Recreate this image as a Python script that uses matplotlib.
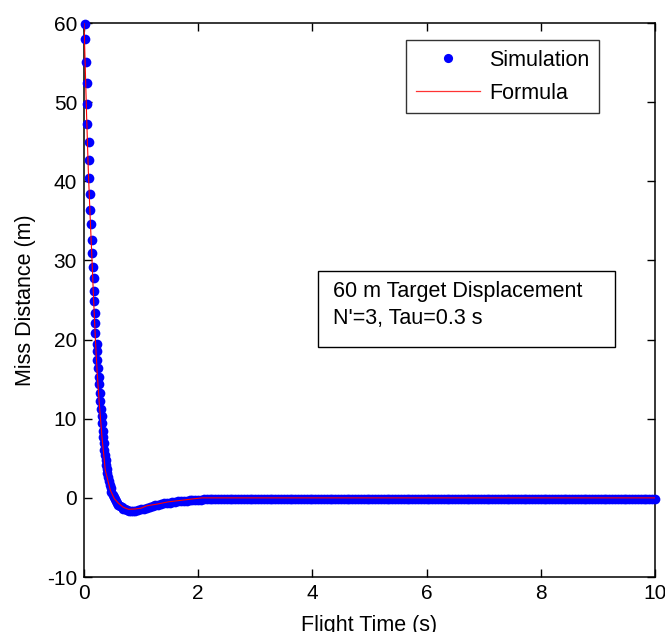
import matplotlib
matplotlib.use("Agg")
import matplotlib.pyplot as plt
from matplotlib.lines import Line2D
from matplotlib.patches import Rectangle

plt.rcParams['font.family'] = ['Liberation Sans', 'DejaVu Sans']
plt.rcParams['axes.unicode_minus'] = False

# simulation points (flight time s, miss distance m)
sim_t = [0.023, 0.025, 0.028, 0.058, 0.058, 0.061, 0.088, 0.09, 0.095, 0.11,
         0.113, 0.117, 0.14, 0.14, 0.158, 0.17, 0.17, 0.175, 0.198, 0.198,
         0.2, 0.228, 0.228, 0.23, 0.245, 0.257, 0.268,
         0.278, 0.288, 0.298, 0.308, 0.318, 0.328, 0.338, 0.348, 0.358, 0.368,
         0.378, 0.39, 0.40, 0.41, 0.42, 0.435, 0.45, 0.465, 0.48, 0.50,
         0.52, 0.54, 0.56, 0.58, 0.60, 0.63, 0.66, 0.69, 0.72, 0.75,
         0.78, 0.82, 0.86, 0.90, 0.95, 1.00, 1.05, 1.10, 1.15, 1.20,
         1.25, 1.30, 1.35, 1.40, 1.45, 1.50, 1.55, 1.60, 1.65, 1.70,
         1.75, 1.80, 1.85, 1.90, 1.95, 2.00, 2.05,
         2.10, 2.15, 2.20, 2.25, 2.30, 2.35, 2.40, 2.45, 2.50, 2.55,
         2.60, 2.65, 2.70, 2.75, 2.80, 2.85, 2.90, 2.95, 3.00, 3.05,
         3.10, 3.15, 3.20, 3.25, 3.30, 3.35, 3.40, 3.45, 3.50, 3.55,
         3.60, 3.65, 3.70, 3.75, 3.80, 3.85, 3.90, 3.95, 4.00, 4.05,
         4.10, 4.15, 4.20, 4.25, 4.30, 4.35, 4.40, 4.45, 4.50, 4.55,
         4.60, 4.65, 4.70, 4.75, 4.80, 4.85, 4.90, 4.95, 5.00, 5.05,
         5.10, 5.15, 5.20, 5.25, 5.30, 5.35, 5.40, 5.45, 5.50, 5.55,
         5.60, 5.65, 5.70, 5.75, 5.80, 5.85, 5.90, 5.95, 6.00, 6.05,
         6.10, 6.15, 6.20, 6.25, 6.30, 6.35, 6.40, 6.45, 6.50, 6.55,
         6.60, 6.65, 6.70, 6.75, 6.80, 6.85, 6.90, 6.95, 7.00, 7.05,
         7.10, 7.15, 7.20, 7.25, 7.30, 7.35, 7.40, 7.45, 7.50, 7.55,
         7.60, 7.65, 7.70, 7.75, 7.80, 7.85, 7.90, 7.95, 8.00, 8.05,
         8.10, 8.15, 8.20, 8.25, 8.30, 8.35, 8.40, 8.45, 8.50, 8.55,
         8.60, 8.65, 8.70, 8.75, 8.80, 8.85, 8.90, 8.95, 9.00, 9.05,
         9.10, 9.15, 9.20, 9.25, 9.30, 9.35, 9.40, 9.45, 9.50, 9.55,
         9.60, 9.65, 9.70, 9.75, 9.80, 9.85, 9.90, 9.95, 10.00]
sim_miss = [59.9, 58.0, 55.1, 52.4, 49.8, 47.3, 45.0, 42.7, 40.4, 38.4,
            36.4, 34.6, 32.6, 30.9, 29.2, 27.8, 26.1, 24.9, 23.4, 22.1,
            20.8, 19.5, 18.5, 17.4, 16.4, 15.3, 14.4,
            13.2, 12.2, 11.2, 10.3, 9.4, 8.5, 7.7, 6.9, 6.1, 5.4,
            4.8, 4.2, 3.6, 3.1, 2.6, 2.1, 1.6, 1.2, 0.8, 0.4,
            0.1, -0.2, -0.45, -0.65, -0.85, -1.05, -1.2, -1.35, -1.45, -1.55,
            -1.6, -1.65, -1.65, -1.6, -1.55, -1.45, -1.35, -1.25, -1.15, -1.05,
            -0.95, -0.85, -0.8, -0.7, -0.65, -0.6, -0.55, -0.5, -0.45, -0.4,
            -0.38, -0.35, -0.32, -0.3, -0.28, -0.25, -0.22,
            -0.2, -0.2, -0.2, -0.2, -0.2, -0.2, -0.2, -0.2, -0.2, -0.2,
            -0.2, -0.2, -0.2, -0.2, -0.2, -0.2, -0.2, -0.2, -0.2, -0.2,
            -0.2, -0.2, -0.2, -0.2, -0.2, -0.2, -0.2, -0.2, -0.2, -0.2,
            -0.2, -0.2, -0.2, -0.2, -0.2, -0.2, -0.2, -0.2, -0.2, -0.2,
            -0.2, -0.2, -0.2, -0.2, -0.2, -0.2, -0.2, -0.2, -0.2, -0.2,
            -0.2, -0.2, -0.2, -0.2, -0.2, -0.2, -0.2, -0.2, -0.2, -0.2,
            -0.2, -0.2, -0.2, -0.2, -0.2, -0.2, -0.2, -0.2, -0.2, -0.2,
            -0.2, -0.2, -0.2, -0.2, -0.2, -0.2, -0.2, -0.2, -0.2, -0.2,
            -0.2, -0.2, -0.2, -0.2, -0.2, -0.2, -0.2, -0.2, -0.2, -0.2,
            -0.2, -0.2, -0.2, -0.2, -0.2, -0.2, -0.2, -0.2, -0.2, -0.2,
            -0.2, -0.2, -0.2, -0.2, -0.2, -0.2, -0.2, -0.2, -0.2, -0.2,
            -0.2, -0.2, -0.2, -0.2, -0.2, -0.2, -0.2, -0.2, -0.2, -0.2,
            -0.2, -0.2, -0.2, -0.2, -0.2, -0.2, -0.2, -0.2, -0.2, -0.2,
            -0.2, -0.2, -0.2, -0.2, -0.2, -0.2, -0.2, -0.2, -0.2, -0.2,
            -0.2, -0.2, -0.2, -0.2, -0.2, -0.2, -0.2, -0.2, -0.2, -0.2,
            -0.2, -0.2, -0.2, -0.2, -0.2, -0.2, -0.2, -0.2, -0.2]

# formula curve
formula_t = [0.0, 0.02, 0.045, 0.075, 0.105, 0.14, 0.17, 0.2, 0.228, 0.267,
             0.315, 0.373, 0.46, 0.53, 0.607, 0.69, 0.782, 0.9, 1.0, 1.1,
             1.27, 1.48, 1.71, 2.06, 4.0, 6.0, 8.0, 10.0]
formula_miss = [60.0, 55.0, 48.5, 41.5, 36.0, 30.1, 24.8, 20.0, 16.2, 12.0,
                7.7, 3.5, 1.0, -0.1, -0.7, -1.2, -1.45, -1.4, -1.3, -1.0,
                -0.8, -0.5, -0.3, 0.0, 0.0, 0.0, 0.0, 0.0]

x_ticks = [0, 2, 4, 6, 8, 10]
y_ticks = [-10, 0, 10, 20, 30, 40, 50, 60]

fig = plt.figure(figsize=(6.65, 6.32), dpi=100)
ax = fig.add_axes([0.1263, 0.087, 0.8586, 0.8766])

ax.plot(sim_t, sim_miss, 'o', color='#0000ff', markersize=7,
        markeredgewidth=0, clip_on=False, zorder=3)
ax.plot(formula_t, formula_miss, '-', color='#ff0000', linewidth=0.8, zorder=4)

ax.set_xlim(0, 10)
ax.set_ylim(-10, 60)
ax.set_xticks(x_ticks)
ax.set_yticks(y_ticks)
ax.tick_params(direction='in', length=6, width=1, labelsize=15,
               top=True, right=True, pad=5)
for s in ax.spines.values():
    s.set_linewidth(1.1)
ax.set_xlabel("Flight Time (s)", fontsize=15.5, labelpad=9)
ax.set_ylabel("Miss Distance (m)", fontsize=15.5, labelpad=8)

handles = [Line2D([], [], marker='o', linestyle='none', color='#0000ff',
                  markersize=6.6, markeredgewidth=0),
           Line2D([], [], color='#ff3333', linewidth=0.9)]
leg = ax.legend(handles, ["Simulation", "Formula"], loc='upper left',
                bbox_to_anchor=(0.564, 0.969), borderaxespad=0, fontsize=15.5,
                numpoints=1, handlelength=3.0, handletextpad=0.4,
                borderpad=0.45, labelspacing=0.55, fancybox=False)
leg.get_frame().set_edgecolor('black')
leg.get_frame().set_linewidth(1)

ax.add_patch(Rectangle((0.41, 0.415), 0.52, 0.137, transform=ax.transAxes,
                       facecolor='white', edgecolor='black', linewidth=1,
                       zorder=5))
ax.text(0.436, 0.516, "60 m Target Displacement", transform=ax.transAxes,
        fontsize=15.5, va='center', ha='left', zorder=6)
ax.text(0.436, 0.4675, "N'=3, Tau=0.3 s", transform=ax.transAxes,
        fontsize=15.5, va='center', ha='left', zorder=6)

fig.savefig("out.png", dpi=100)
